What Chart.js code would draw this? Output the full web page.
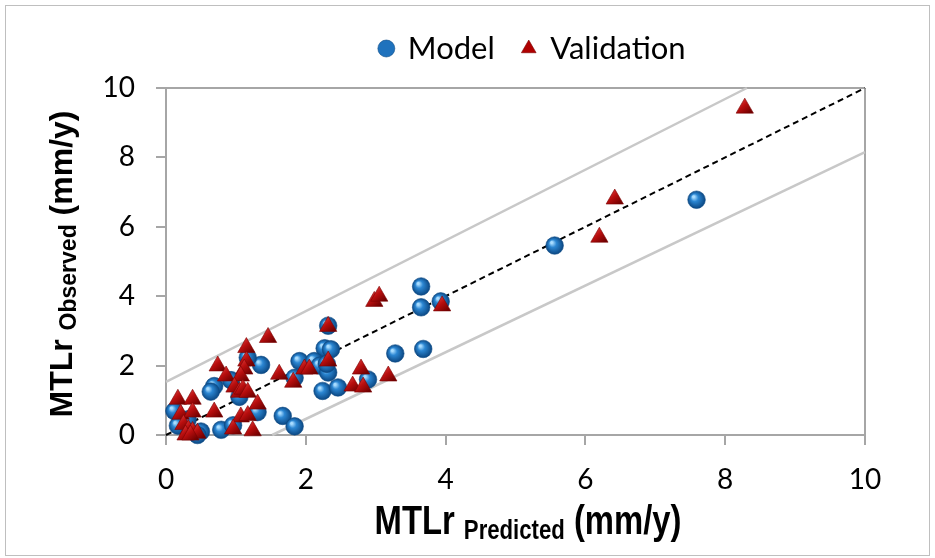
<!DOCTYPE html>
<html>
<head>
<meta charset="utf-8">
<title>MTLr predicted vs observed</title>
<script src="https://cdn.jsdelivr.net/npm/chart.js@4.4.1/dist/chart.umd.min.js"></script>
<style>
  html, body { margin: 0; padding: 0; background: #ffffff; }
  #wrap { position: relative; width: 935px; height: 558px; }
</style>
</head>
<body>
<div id="wrap"><canvas id="chart" width="935" height="558"></canvas></div>
<script>
// Model points
const modelX = [7.59, 5.56, 3.65, 3.65, 3.93, 3.68, 3.28, 2.32, 2.89, 2.27, 2.36, 1.91, 2.12, 2.2, 2.32, 2.24, 2.46, 1.84,
  1.36, 1.17, 0.69, 0.64, 0.93, 0.12, 1.31, 1.67, 1.84, 0.79, 0.96, 0.31, 0.17, 0.5, 0.45, 1.05, 2.3]
const modelY = [6.78, 5.46, 4.28, 3.68, 3.85, 2.48, 2.35, 3.15, 1.6, 2.5, 2.47, 2.13, 2.13, 2.0, 1.8, 1.27, 1.37, 1.65,
  2.02, 2.23, 1.41, 1.25, 1.58, 0.69, 0.66, 0.55, 0.25, 0.15, 0.28, 0.45, 0.27, 0.1, 0.0, 1.1, 2.05]

// Validation points
const validX = [8.28, 6.42, 6.2, 3.95, 2.98, 3.05, 2.32, 1.46, 1.15, 1.15, 0.74, 0.86, 1.12, 1.07, 0.98, 1.05, 1.1, 1.17,
  1.31, 1.07, 1.17, 0.96, 1.24, 0.69, 0.17, 0.38, 0.21, 0.38, 0.25, 0.32, 0.38, 0.45, 0.28, 0.35, 1.62, 1.82, 1.98, 2.05,
  2.32, 2.79, 2.67, 2.82, 3.18]
const validY = [9.42, 6.8, 5.7, 3.72, 3.85, 4.0, 3.13, 2.81, 2.52, 2.13, 1.99, 1.7, 1.9, 1.7, 1.38, 1.23, 1.32, 1.23,
  0.89, 0.52, 0.56, 0.17, 0.12, 0.66, 1.03, 1.03, 0.6, 0.66, 0.3, 0.15, 0.1, 0.05, 0.0, 0.0, 1.75, 1.52, 1.9, 1.9,
  2.13, 1.9, 1.41, 1.38, 1.7]

// 1:1 line and the two band lines
const diagX = [0, 10]
const diagY = [0, 10]
const upperX = [0, 8.31]
const upperY = [1.53, 10]
const lowerX = [1.52, 10]
const lowerY = [0, 8.15]

// Axes
const axisMin = 0
const axisMax = 10
const axisStep = 2

const seriesNames = ["Model", "Validation"]
const xTitle = ["MTLr", "Predicted", "(mm/y)"]
const yTitle = ["MTLr", "Observed", "(mm/y)"]

const tickFont = "Lato, 'Open Sans', sans-serif"
const titleFont = "'Liberation Sans', Arial, sans-serif"
const axisGray = "#a6a6a6"

function toPoints(xs, ys) {
  return xs.map((x, i) => ({ x: x, y: ys[i] }))
}

// pixel centre of a data point, or null while the scales are not laid out yet
function pointPixel(ctx) {
  if (ctx.type !== "data" || !ctx.parsed) return null
  const px = ctx.chart.scales.x.getPixelForValue(ctx.parsed.x)
  const py = ctx.chart.scales.y.getPixelForValue(ctx.parsed.y)
  if (!isFinite(px) || !isFinite(py)) return null
  return { px, py }
}

// Shaded blue sphere for the model points
function sphereFill(ctx) {
  const p = pointPixel(ctx)
  if (!p) return "#1f6fb8"
  const g = ctx.chart.ctx.createRadialGradient(p.px - 3, p.py - 3, 1, p.px, p.py, 9)
  g.addColorStop(0, "#a8dcff")
  g.addColorStop(0.35, "#2b86d2")
  g.addColorStop(1, "#0a4580")
  return g
}

// Shaded red pyramid for the validation points
function pyramidFill(ctx) {
  const p = pointPixel(ctx)
  if (!p) return "#b00000"
  const g = ctx.chart.ctx.createLinearGradient(p.px - 8, p.py - 9, p.px + 4, p.py + 6)
  g.addColorStop(0, "#e84a4a")
  g.addColorStop(0.5, "#b80e0e")
  g.addColorStop(1, "#6e0000")
  return g
}

function gridColor(ctx) {
  return ctx.tick && ctx.tick.value === axisMax ? axisGray : "rgba(0,0,0,0)"
}

// Draws a title made of a main part, a subscript and a main part
function drawTitle(c, parts, mainSize, subSize, subDrop) {
  const fonts = [mainSize, subSize, mainSize]
  const texts = [parts[0] + " ", parts[1], " " + parts[2]]
  let total = 0
  const widths = texts.map((t, i) => {
    c.font = "bold " + fonts[i] + "px " + titleFont
    const w = c.measureText(t).width
    total += w
    return w
  })
  let x = -total / 2
  texts.forEach((t, i) => {
    c.font = "bold " + fonts[i] + "px " + titleFont
    c.fillText(t, x, i === 1 ? subDrop : 0)
    x += widths[i]
  })
}

const framePlugin = {
  id: "frame",
  beforeDraw(chart) {
    const c = chart.ctx
    c.save()
    c.fillStyle = "#ffffff"
    c.fillRect(0, 0, chart.width, chart.height)
    c.strokeStyle = "#bfbfbf"
    c.lineWidth = 1
    c.strokeRect(5.5, 5.5, chart.width - 11, chart.height - 8)
    c.restore()
  },
  afterLayout(chart) {
    // move the legend over the plot like in the original
    const lg = chart.legend
    if (!lg) return
    const dx = 533 - (lg.left + lg.right) / 2
    const dy = -14
    lg.left += dx
    lg.right += dx
    lg.top += dy
    lg.bottom += dy
  },
  afterDraw(chart) {
    const c = chart.ctx
    c.save()
    c.fillStyle = "#000000"
    c.textBaseline = "alphabetic"
    c.textAlign = "left"
    // x title, condensed
    c.save()
    c.translate(528, 534)
    c.scale(0.82, 1)
    drawTitle(c, xTitle, 40, 27, 5)
    c.restore()
    // y title, rotated
    c.save()
    c.translate(72, 264)
    c.rotate(-Math.PI / 2)
    drawTitle(c, yTitle, 32, 23, 4)
    c.restore()
    c.restore()
  },
}

const lineStyle = {
  type: "line",
  showLine: true,
  pointRadius: 0,
  fill: false,
  order: 3,
  clip: false,
}

const ctx = document.getElementById("chart").getContext("2d")
const chart = new Chart(ctx, {
  type: "scatter",
  data: {
    datasets: [
      {
        label: seriesNames[0],
        data: toPoints(modelX, modelY),
        pointStyle: "circle",
        pointRadius: 8.8,
        backgroundColor: sphereFill,
        borderColor: "#0c4a85",
        borderWidth: 0.6,
        order: 2,
        clip: false,
      },
      {
        label: seriesNames[1],
        data: toPoints(validX, validY),
        pointStyle: "triangle",
        pointRadius: 10,
        backgroundColor: pyramidFill,
        borderColor: "#7a0000",
        borderWidth: 0.6,
        order: 1,
        clip: false,
      },
      {
        ...lineStyle,
        label: "1:1",
        data: toPoints(diagX, diagY),
        borderColor: "#000000",
        borderWidth: 2,
        borderDash: [6, 4],
      },
      {
        ...lineStyle,
        label: "upper",
        data: toPoints(upperX, upperY),
        borderColor: "#c8c8c8",
        borderWidth: 2.5,
      },
      {
        ...lineStyle,
        label: "lower",
        data: toPoints(lowerX, lowerY),
        borderColor: "#c8c8c8",
        borderWidth: 2.5,
      },
    ],
  },
  options: {
    responsive: false,
    animation: false,
    devicePixelRatio: 1,
    layout: {
      padding: { top: 19, left: 0, right: 70, bottom: 0 },
    },
    plugins: {
      tooltip: { enabled: false },
      legend: {
        position: "top",
        labels: {
          color: "#000000",
          font: { family: tickFont, size: 31 },
          usePointStyle: true,
          boxWidth: 12,
          boxHeight: 12,
          padding: 28,
          filter: (item) => item.datasetIndex < 2,
          sort: (a, b) => a.datasetIndex - b.datasetIndex,
          generateLabels: (chart) => {
            const items = Chart.defaults.plugins.legend.labels.generateLabels(chart)
            items.forEach((item) => {
              if (item.datasetIndex === 0) {
                item.fillStyle = "#1f72bd"
                item.strokeStyle = "#0c4a85"
              }
              if (item.datasetIndex === 1) {
                item.fillStyle = "#b00000"
                item.strokeStyle = "#7a0000"
              }
              item.lineWidth = 0.6
            })
            return items
          },
        },
      },
    },
    scales: {
      x: {
        type: "linear",
        min: axisMin,
        max: axisMax,
        afterFit: (scale) => {
          scale.height = 123
        },
        ticks: {
          stepSize: axisStep,
          color: "#000000",
          font: { family: tickFont, size: 28 },
          padding: 18,
        },
        grid: {
          color: gridColor,
          tickColor: axisGray,
          tickLength: 10,
          lineWidth: 2,
        },
        border: { color: axisGray, width: 2 },
      },
      y: {
        type: "linear",
        min: axisMin,
        max: axisMax,
        afterFit: (scale) => {
          scale.width = 166
        },
        ticks: {
          stepSize: axisStep,
          color: "#000000",
          font: { family: tickFont, size: 28 },
          padding: 21,
        },
        grid: {
          color: gridColor,
          tickColor: axisGray,
          tickLength: 10,
          lineWidth: 2,
        },
        border: { color: axisGray, width: 2 },
      },
    },
  },
  plugins: [framePlugin],
})
</script>
</body>
</html>
